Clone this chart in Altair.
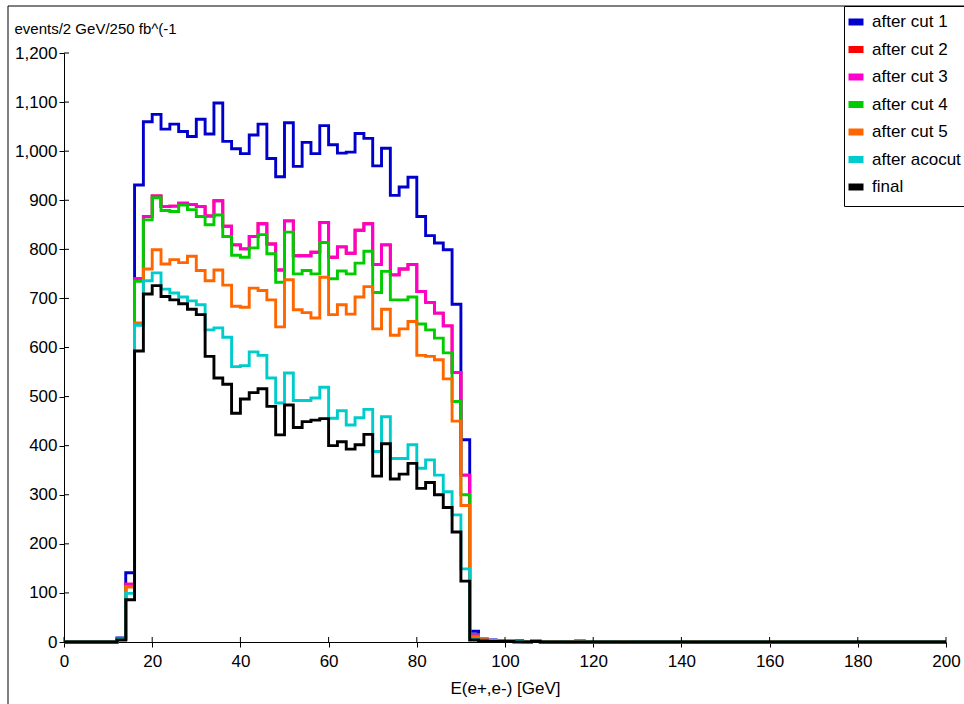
import altair as alt
import pandas as pd

# ---------------- data (2 GeV bins, left edges 0..198) ----------------
bin_left = list(range(0, 200, 2))

series_names = ["after cut 1", "after cut 2", "after cut 3", "after cut 4",
                "after cut 5", "after acocut", "final"]
series_colors = ["#0000cc", "#ff0000", "#ff00cc", "#00cc00",
                 "#ff6600", "#00cccc", "#000000"]

cut1 = [0, 0, 0, 0, 0, 0,
        8, 141, 931, 1060, 1075, 1045, 1055, 1040, 1030, 1065,
        1035, 1098, 1020, 1005, 995, 1033, 1055, 985, 948, 1058,
        969, 1018, 995, 1052, 1013, 996, 998, 1036, 1026, 970,
        1006, 910, 927, 947, 867, 828, 813, 799, 688, 412,
        22,
        6, 4, 3, 3, 2, 1, 2, 1, 1, 0,
        1, 0, 1, 0, 0, 1, 0, 0, 0, 0,
        0, 0, 0, 0, 0, 0, 0, 0, 0, 0,
        0, 0, 0, 0, 0, 0, 0, 0, 0, 0,
        0, 0, 0, 0, 0, 0, 0, 0, 0, 0,
        0, 0, 0]

cut2 = [0, 0, 0, 0, 0, 0,
        6, 118, 740, 867, 909, 887, 888, 894, 891, 887,
        868, 899, 847, 809, 801, 826, 852, 811, 758, 858,
        787, 787, 794, 855, 784, 805, 792, 839, 852, 769,
        809, 748, 760, 769, 714, 692, 670, 644, 549, 340,
        15,
        5, 3, 3, 2, 2, 1, 1, 1, 0, 1,
        0, 1, 0, 1, 0, 0, 0, 0, 0, 0,
        0, 0, 0, 0, 0, 0, 0, 0, 0, 0,
        0, 0, 0, 0, 0, 0, 0, 0, 0, 0,
        0, 0, 0, 0, 0, 0, 0, 0, 0, 0,
        0, 0, 0]

cut3 = [0, 0, 0, 0, 0, 0,
        6, 118, 740, 867, 909, 887, 888, 894, 891, 887,
        868, 899, 847, 809, 801, 826, 852, 811, 758, 858,
        787, 787, 794, 855, 784, 805, 792, 839, 852, 769,
        809, 748, 760, 769, 714, 692, 670, 644, 549, 340,
        15,
        5, 3, 3, 2, 2, 1, 1, 1, 0, 1,
        0, 1, 0, 1, 0, 0, 0, 0, 0, 0,
        0, 0, 0, 0, 0, 0, 0, 0, 0, 0,
        0, 0, 0, 0, 0, 0, 0, 0, 0, 0,
        0, 0, 0, 0, 0, 0, 0, 0, 0, 0,
        0, 0, 0]

cut4 = [0, 0, 0, 0, 0, 0,
        6, 113, 735, 860, 905, 879, 877, 890, 881, 867,
        850, 870, 826, 788, 784, 803, 830, 791, 733, 835,
        750, 757, 750, 814, 740, 756, 750, 772, 796, 712,
        755, 697, 697, 703, 648, 636, 619, 589, 490, 300,
        12,
        4, 3, 2, 2, 1, 1, 1, 0, 1, 0,
        0, 1, 0, 0, 0, 0, 0, 0, 0, 0,
        0, 0, 0, 0, 0, 0, 0, 0, 0, 0,
        0, 0, 0, 0, 0, 0, 0, 0, 0, 0,
        0, 0, 0, 0, 0, 0, 0, 0, 0, 0,
        0, 0, 0]

cut5 = [0, 0, 0, 0, 0, 0,
        5, 112, 650, 760, 799, 770, 779, 773, 786, 757,
        736, 758, 727, 684, 682, 721, 716, 697, 642, 738,
        677, 671, 660, 743, 667, 687, 668, 703, 724, 638,
        678, 625, 638, 653, 584, 582, 575, 536, 450, 278,
        10,
        4, 3, 2, 3, 1, 1, 1, 0, 1, 0,
        1, 3, 0, 0, 0, 0, 1, 0, 0, 0,
        0, 0, 0, 0, 1, 0, 0, 0, 0, 0,
        0, 0, 0, 1, 0, 0, 0, 0, 0, 0,
        0, 0, 0, 0, 0, 0, 0, 0, 0, 0,
        0, 0, 0]

acocut = [0, 0, 0, 0, 0, 0,
          5, 99, 645, 736, 752, 719, 711, 703, 695, 687,
          636, 640, 621, 561, 563, 591, 584, 538, 487, 548,
          492, 492, 497, 519, 456, 471, 442, 457, 474, 388,
          459, 374, 374, 402, 354, 371, 340, 306, 259, 149,
          5,
          3, 2, 1, 1, 1, 0, 1, 0, 0, 0,
          0, 0, 0, 0, 0, 0, 0, 0, 0, 0,
          0, 0, 0, 0, 0, 0, 0, 0, 0, 0,
          0, 0, 0, 0, 0, 0, 0, 0, 0, 0,
          0, 0, 0, 0, 0, 0, 0, 0, 0, 0,
          0, 0, 0]

final = [0, 0, 0, 0, 0, 0,
         4, 86, 593, 709, 726, 704, 697, 689, 678, 667,
         582, 538, 525, 466, 495, 508, 516, 480, 422, 483,
         437, 449, 452, 455, 400, 408, 393, 402, 423, 338,
         404, 332, 342, 364, 313, 325, 300, 274, 224, 124,
         4,
         2, 1, 1, 1, 0, 0, 1, 0, 0, 0,
         0, 0, 0, 0, 0, 0, 0, 0, 0, 0,
         0, 0, 0, 0, 0, 0, 0, 0, 0, 0,
         0, 0, 0, 0, 0, 0, 0, 0, 0, 0,
         0, 0, 0, 0, 0, 0, 0, 0, 0, 0,
         0, 0, 0]

series_values = [cut1, cut2, cut3, cut4, cut5, acocut, final]

x_ticks = list(range(0, 201, 20))
y_ticks = list(range(0, 1201, 100))

# ---------------- build table ----------------
rows = []
for name, vals in zip(series_names, series_values):
    for e, v in zip(bin_left, vals):
        rows.append({"E": e, "n": v, "series": name})
    rows.append({"E": 200, "n": vals[-1], "series": name})
df = pd.DataFrame(rows)

FONT = "Liberation Sans"
W, H = 882, 589

xscale = alt.Scale(domain=[0, 200], nice=False, zero=False)
yscale = alt.Scale(domain=[0, 1200], nice=False)
cscale = alt.Scale(domain=series_names, range=series_colors)

x_axis = alt.Axis(values=x_ticks, title="E(e+,e-) [GeV]", grid=False,
                  labelFont=FONT, labelFontSize=17, labelColor="black",
                  labelPadding=6, tickSize=5, tickColor="black",
                  domainColor="black", titleFont=FONT, titleFontSize=17,
                  titleFontWeight="normal", titleColor="black",
                  titlePadding=11, labelFlush=False)
y_axis = alt.Axis(values=y_ticks, format=",d", title="events/2 GeV/250 fb^(-1",
                  grid=False, labelFont=FONT, labelFontSize=17,
                  labelColor="black", labelPadding=2, tickSize=5,
                  tickColor="black", domainColor="black", titleFont=FONT,
                  titleFontSize=15, titleFontWeight="normal",
                  titleColor="black", titleAngle=0, titleAlign="left",
                  titleBaseline="alphabetic", titleX=-50, titleY=-20)

legend = alt.Legend(title=None, orient="none", legendX=780, legendY=-47,
                    strokeColor="black", fillColor="white", padding=5,
                    symbolType="stroke", symbolSize=225, symbolStrokeWidth=7,
                    symbolOffset=-4,
                    labelFont=FONT, labelFontSize=17, labelColor="black",
                    labelOffset=5, rowPadding=-0.5, labelLimit=300)

layers = []
for name in series_names:
    layers.append(
        alt.Chart(df)
        .transform_filter(alt.datum.series == name)
        .mark_line(interpolate="step-after", strokeWidth=2.9)
        .encode(
            x=alt.X("E:Q", scale=xscale, axis=x_axis),
            y=alt.Y("n:Q", scale=yscale, axis=y_axis),
            color=alt.Color("series:N", scale=cscale, legend=legend,
                            sort=series_names),
        )
    )

xt = alt.Chart(pd.DataFrame({"E": x_ticks})).mark_rule(
    color="black", strokeWidth=1).encode(
    x=alt.X("E:Q", scale=xscale, axis=x_axis),
    y=alt.value(H - 5), y2=alt.value(H))
yt = alt.Chart(pd.DataFrame({"n": y_ticks})).mark_rule(
    color="black", strokeWidth=1).encode(
    y=alt.Y("n:Q", scale=yscale, axis=y_axis),
    x=alt.value(0), x2=alt.value(5))

one = pd.DataFrame({"a": [0]})
frame_left = alt.Chart(one).mark_rule(color="black", strokeWidth=1).encode(
    x=alt.value(-56), y=alt.value(-47), y2=alt.value(H + 70))
frame_top = alt.Chart(one).mark_rule(color="black", strokeWidth=1).encode(
    x=alt.value(-56), x2=alt.value(W + 30), y=alt.value(-47))

chart = alt.layer(*layers, xt, yt, frame_left, frame_top).properties(
    width=W, height=H,
    padding={"left": 64, "top": 53, "right": 18, "bottom": 62},
    autosize=alt.AutoSizeParams(type="none"),
    background="white",
).configure_view(stroke="transparent")

chart.save("out.html", embed_options={"renderer": "svg", "actions": False})
